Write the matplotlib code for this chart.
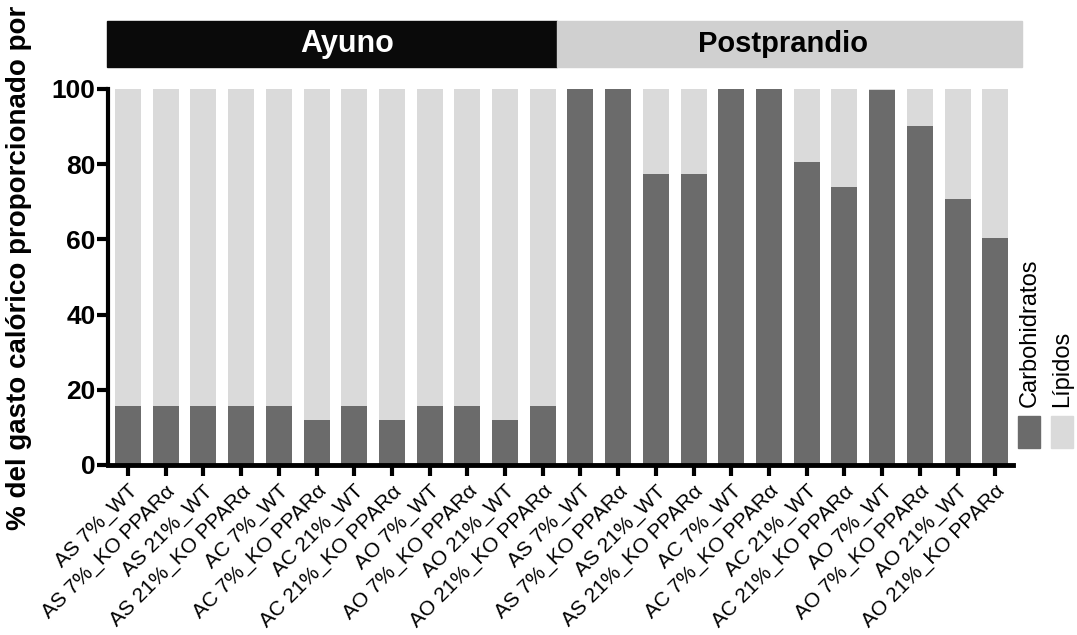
import numpy as np
import matplotlib.pyplot as plt
from matplotlib.patches import Rectangle

plt.rcParams['font.family'] = ['Liberation Sans', 'DejaVu Sans']

groups = ["AS 7%_WT", "AS 7%_KO PPARα", "AS 21%_WT", "AS 21%_KO PPARα",
          "AC 7%_WT", "AC 7%_KO PPARα", "AC 21%_WT", "AC 21%_KO PPARα",
          "AO 7%_WT", "AO 7%_KO PPARα", "AO 21%_WT", "AO 21%_KO PPARα"]
labels = groups + groups

# carbohidratos (%) - ayuno then postprandio
carb_ayuno = [15.8, 15.8, 15.8, 15.8, 15.8, 12.0, 15.8, 12.0, 15.8, 15.8, 12.0, 15.8]
carb_post = [100, 100, 77.4, 77.4, 100, 100, 80.5, 74.0, 99.7, 90.2, 70.7, 60.3]
carb = np.array(carb_ayuno + carb_post)
lip = 100 - carb

dark = '#6b6b6b'
light = '#dadada'

dpi = 100
fig = plt.figure(figsize=(1077 / dpi, 635 / dpi), dpi=dpi)
ax = fig.add_axes([108 / 1077, 1 - 465 / 635, (1013 - 108) / 1077, (465 - 89) / 635])

xs = np.arange(len(labels))
ax.bar(xs, carb, width=0.69, color=dark, label='Carbohidratos', zorder=2)
ax.bar(xs, lip, width=0.69, bottom=carb, color=light, label='Lípidos', zorder=2)

ax.set_xlim(-0.53, 23.47)
ax.set_ylim(0, 100)
ax.set_yticks([0, 20, 40, 60, 80, 100])
ax.set_yticklabels(['0', '20', '40', '60', '80', '100'], fontsize=19, fontweight='bold')
ax.set_xticks(xs)
ax.set_xticklabels(labels, rotation=45, ha='right', rotation_mode='anchor', fontsize=15)

for s in ['top', 'right']:
    ax.spines[s].set_visible(False)
ax.spines['left'].set_linewidth(3)
ax.spines['bottom'].set_linewidth(3.5)
ax.tick_params(axis='y', width=3, length=8, pad=1)
ax.tick_params(axis='x', width=3, length=8, pad=4)

fig.text(0.018, 1 - 268 / 635, '% del gasto calórico proporcionado por', rotation=90,
         ha='center', va='center', fontsize=20, fontweight='bold')

# header boxes
fig.patches.append(Rectangle((107 / 1077, 1 - 67 / 635), (557 - 107) / 1077, 46 / 635,
                             transform=fig.transFigure, color='#0a0a0a', zorder=0))
fig.patches.append(Rectangle((557 / 1077, 1 - 67 / 635), (1022 - 557) / 1077, 46 / 635,
                             transform=fig.transFigure, color='#d0d0d0', zorder=0))
fig.text(347 / 1077, 1 - 44 / 635, 'Ayuno', color='white',
         ha='center', va='center', fontsize=22, fontweight='bold')
fig.text(783 / 1077, 1 - 44 / 635, 'Postprandio', color='black',
         ha='center', va='center', fontsize=21, fontweight='bold')

# legend on the right, rotated
fig.patches.append(Rectangle((1018 / 1077, 1 - 448 / 635), 22 / 1077, 32 / 635,
                             transform=fig.transFigure, color=dark))
fig.patches.append(Rectangle((1051 / 1077, 1 - 448 / 635), 22 / 1077, 32 / 635,
                             transform=fig.transFigure, color=light))
fig.text(1030 / 1077, 1 - 407 / 635, 'Carbohidratos', rotation=90, ha='center', va='bottom',
         fontsize=17)
fig.text(1062 / 1077, 1 - 407 / 635, 'Lípidos', rotation=90, ha='center', va='bottom',
         fontsize=17)

fig.savefig('out.png', dpi=dpi)
